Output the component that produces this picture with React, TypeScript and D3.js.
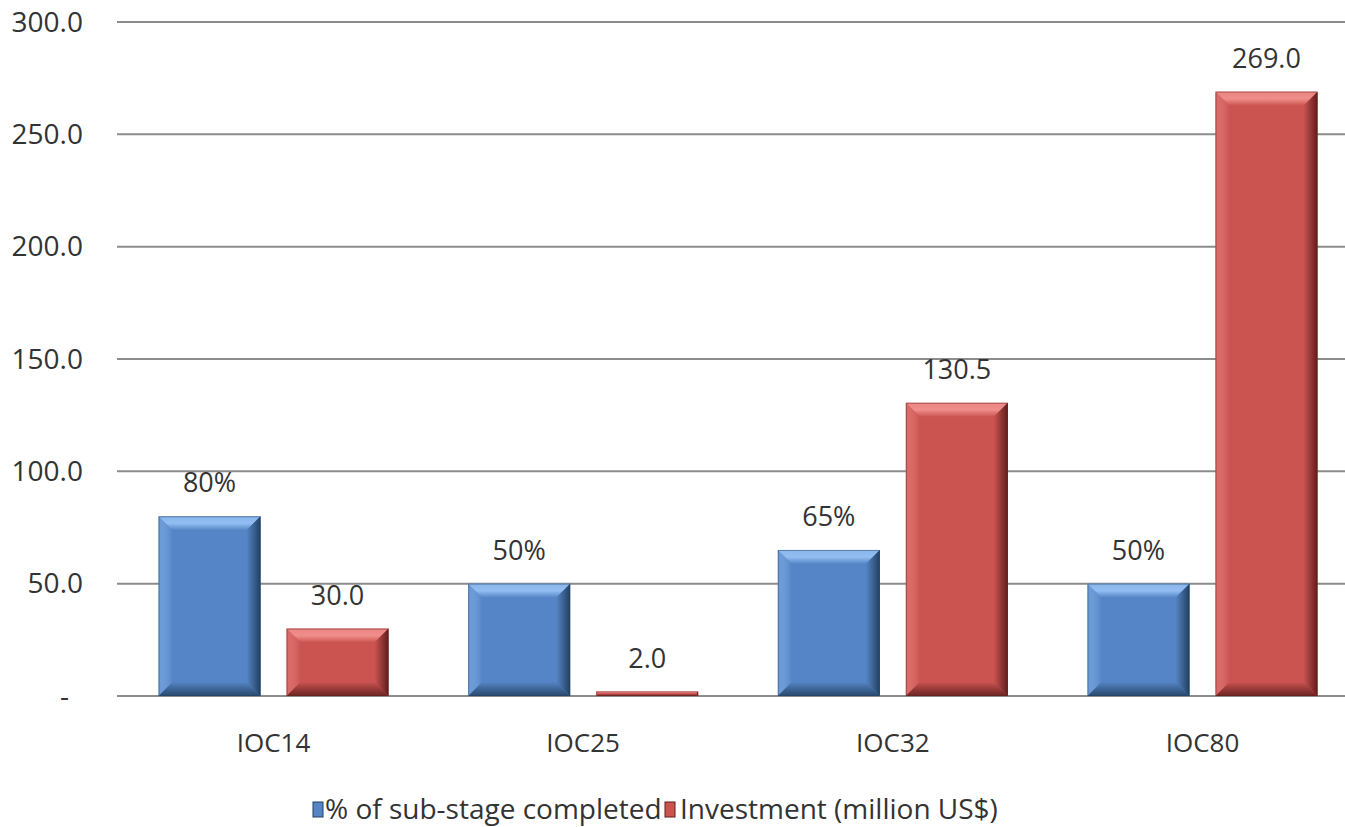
import React from "react";
import * as d3 from "d3";

const categories = ["IOC14", "IOC25", "IOC32", "IOC80"];
const pctValues = [80, 50, 65, 50];
const pctLabels = ["80%", "50%", "65%", "50%"];
const investValues = [30.0, 2.0, 130.5, 269.0];
const yTicks = [0, 50, 100, 150, 200, 250, 300];
const seriesNames = ["% of sub-stage completed", "Investment (million US$)"];

const W = 1345;
const H = 827;
const FONT = "'Open Sans', 'Noto Sans', sans-serif";

const series = [
  { name: seriesNames[0], values: pctValues, labels: pctLabels, base: "#5585C6", light: "#92BEF2", dark: "#22405F", id: "b" },
  {
    name: seriesNames[1],
    values: investValues,
    labels: investValues.map((v) => v.toFixed(1)),
    base: "#CB5451",
    light: "#F08E8B",
    dark: "#5E1E1C",
    id: "r",
  },
];

function Bar({ x0, x1, y0, y1, s }: any) {
  const h = y1 - y0;
  if (h <= 0) return null;
  const b = Math.min(14, h / 2, (x1 - x0) / 2);
  const p = (pts: number[][]) => pts.map((q) => q.join(",")).join(" ");
  return (
    <g>
      <rect x={x0} y={y0} width={x1 - x0} height={h} fill={s.base} />
      <polygon points={p([[x0, y0], [x1, y0], [x1 - b, y0 + b], [x0 + b, y0 + b]])} fill={`url(#top-${s.id})`} />
      <polygon points={p([[x0, y0], [x0 + b, y0 + b], [x0 + b, y1 - b], [x0, y1]])} fill={`url(#left-${s.id})`} />
      <polygon points={p([[x1, y0], [x1, y1], [x1 - b, y1 - b], [x1 - b, y0 + b]])} fill={`url(#right-${s.id})`} />
      <polygon points={p([[x0, y1], [x1, y1], [x1 - b, y1 - b], [x0 + b, y1 - b]])} fill={`url(#bot-${s.id})`} />
      <rect x={x0 + 0.5} y={y0 + 0.5} width={x1 - x0 - 1} height={Math.max(0, h - 1)} fill="none" stroke={s.dark} strokeOpacity={0.45} strokeWidth={1} />
    </g>
  );
}

export default function App() {
  const plotLeft = 118.7;
  const plotRight = 1357.3;
  const y = d3.scaleLinear().domain([0, 300]).range([696, 22]);
  const x = d3.scaleBand().domain(categories).range([plotLeft, plotRight]).paddingInner(0).paddingOuter(0);
  const groupW = 230;
  const groupOff = (x.bandwidth() - groupW) / 2;
  const xs = d3.scaleBand().domain(["0", "1"]).range([groupOff, groupOff + groupW]).paddingInner(26 / 128).paddingOuter(0);

  const fmt = (d: number) => (d === 0 ? "-" : d.toFixed(1));

  return (
    <svg width={W} height={H} style={{ position: "absolute", left: 0, top: 0, background: "#fff" }}>
      <defs>
        {series.map((s) => (
          <React.Fragment key={s.id}>
            <linearGradient id={`top-${s.id}`} x1="0" y1="0" x2="0" y2="1">
              <stop offset="0" stopColor={s.light} stopOpacity="0.85" />
              <stop offset="0.5" stopColor={s.light} />
              <stop offset="1" stopColor={s.base} />
            </linearGradient>
            <linearGradient id={`left-${s.id}`} x1="0" y1="0" x2="1" y2="0">
              <stop offset="0" stopColor={s.light} stopOpacity="0.35" />
              <stop offset="1" stopColor={s.base} />
            </linearGradient>
            <linearGradient id={`right-${s.id}`} x1="0" y1="0" x2="1" y2="0">
              <stop offset="0" stopColor={s.base} />
              <stop offset="1" stopColor={s.dark} />
            </linearGradient>
            <linearGradient id={`bot-${s.id}`} x1="0" y1="0" x2="0" y2="1">
              <stop offset="0" stopColor={s.base} />
              <stop offset="1" stopColor={s.dark} stopOpacity="0.85" />
            </linearGradient>
          </React.Fragment>
        ))}
      </defs>

      {yTicks.map((t) => (
        <g key={t}>
          <line x1={117} x2={W} y1={y(t)} y2={y(t)} stroke="#8C8C8C" strokeWidth={2} />
          <text
            x={t === 0 ? 69 : 83}
            y={y(t)}
            dy="0.35em"
            textAnchor="end"
            fontFamily={FONT}
            fontSize={28}
            fill="#333"
          >
            {fmt(t)}
          </text>
        </g>
      ))}

      {categories.map((c, i) => {
        const gx = x(c)!;
        return (
          <g key={c}>
            {series.map((s, si) => {
              const x0 = gx + xs(String(si))!;
              const x1 = x0 + xs.bandwidth();
              const top = y(s.values[i]);
              return (
                <g key={s.id}>
                  <Bar x0={x0} x1={x1} y0={top} y1={y(0)} s={s} />
                  <text
                    x={(x0 + x1) / 2}
                    y={top - 24}
                    textAnchor="middle"
                    fontFamily={FONT}
                    fontSize={27}
                    fill="#333"
                  >
                    {s.labels[i]}
                  </text>
                </g>
              );
            })}
            <text
              x={gx + x.bandwidth() / 2}
              y={752}
              textAnchor="middle"
              fontFamily={FONT}
              fontSize={26}
              fill="#333"
            >
              {c}
            </text>
          </g>
        );
      })}

      <g>
        <rect x={313} y={802} width={10} height={15} fill={series[0].base} stroke={series[0].dark} strokeWidth={1} />
        <text x={325} y={819} fontFamily={FONT} fontSize={28} fill="#333">
          {seriesNames[0]}
        </text>
        <rect x={665} y={802} width={10} height={15} fill={series[1].base} stroke={series[1].dark} strokeWidth={1} />
        <text x={680} y={819} fontFamily={FONT} fontSize={28} fill="#333">
          {seriesNames[1]}
        </text>
      </g>
    </svg>
  );
}
